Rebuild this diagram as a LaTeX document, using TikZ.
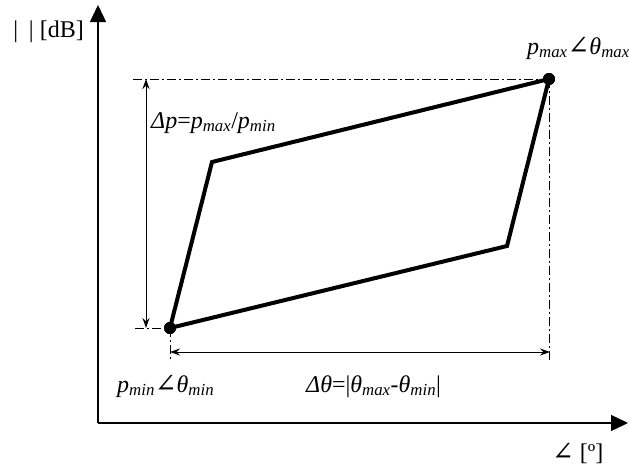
\documentclass[tikz,border=0pt]{standalone}
\usepackage{fontspec}
\setmainfont{Liberation Serif}
\newfontfamily\anglefont{DejaVu Serif}
\usepackage{tikz}
\usetikzlibrary{arrows.meta,positioning}

\newcommand{\lo}[1]{\textsubscript{\textit{#1}}}
\newcommand{\ang}{{\anglefont\fontsize{26}{28}\selectfont ∠}}

\begin{document}
\begin{tikzpicture}[
    x=1pt, y=-1pt,
    axis/.style={line width=1.4pt, -{Triangle[length=17pt, width=16pt]}},
    edge/.style={line width=4pt, line join=miter},
    guide/.style={dash pattern=on 9pt off 3pt on 2pt off 3pt, line width=0.9pt},
    dim/.style={line width=1pt, {Stealth[length=10pt, width=7pt]}-{Stealth[length=10pt, width=7pt]}},
    dot/.style={circle, fill, inner sep=0pt, minimum size=12pt},
    lbl/.style={inner sep=0pt, font=\fontsize{24}{28}\selectfont}
]
\useasboundingbox (0,0) rectangle (629,469);

% axes
\coordinate (origin) at (98,423);
\coordinate (ytip) at (98,5);
\coordinate (xtip) at (628,423);
\draw[axis] (origin) -- (ytip);
\draw[axis] (origin) -- (xtip);
\node[lbl, anchor=east] (ylabel) at (84,32) {|\hspace{0.45em}| [dB]};
\node[lbl, anchor=base west] (xlabel) at (552,460) {\ang\ [º]};

% corner points
\node[dot] (pmin) at (170,328) {};
\node[dot] (pmax) at (549,79) {};
\coordinate (upper) at (212,162);
\coordinate (lower) at (507,246);

% guide lines
\coordinate (gtop) at (133,79);
\coordinate (gleft) at (135,328);
\coordinate (gright) at (550,362);
\coordinate (gbot) at (170,362);
\draw[guide] (gtop) -- (pmax.center);
\draw[guide] (pmax.center) -- (pmax.center |- gright);
\draw[guide] (gleft) -- (pmin.center);
\draw[guide] (pmin.center) -- (gbot);

% dimension arrows
\coordinate (dptop) at (146,79);
\coordinate (dpbot) at (146,328);
\coordinate (dtleft) at (170,352);
\coordinate (dtright) at (550,352);
\draw[dim] (dptop) -- (dpbot);
\draw[dim] (dtleft) -- (dtright);

% loop
\draw[edge] (pmin.center) -- (upper) -- (pmax.center) -- (lower) -- cycle;
\node[dot] at (pmin) {};
\node[dot] at (pmax) {};

% labels
\node[lbl, anchor=base west] (dplabel) at (151,128) {\textit{Δp}=\textit{p}\lo{max}/\textit{p}\lo{min}};
\node[lbl, anchor=base west] (maxlabel) at (527,54) {\textit{p}\lo{max}\ang\textit{θ}\lo{max}};
\node[lbl, anchor=base west] (minlabel) at (117,392) {\textit{p}\lo{min}\ang\textit{θ}\lo{min}};
\node[lbl, anchor=base west] (dtlabel) at (306,392) {\textit{Δθ}=|\textit{θ}\lo{max}-\textit{θ}\lo{min}|};
\end{tikzpicture}
\end{document}
